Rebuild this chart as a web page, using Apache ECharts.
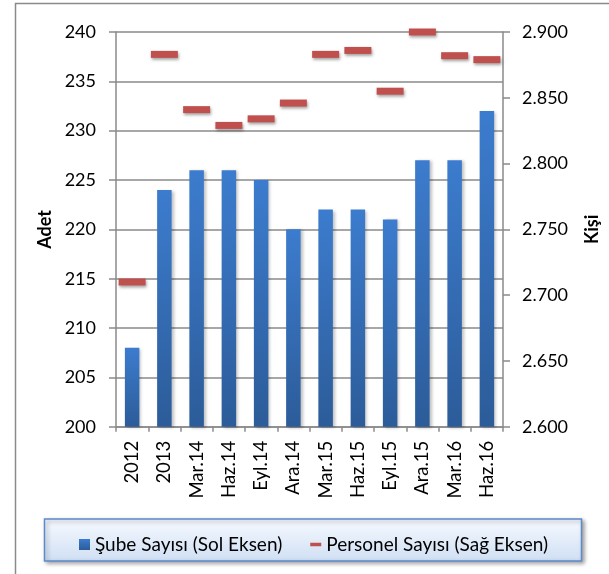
<!DOCTYPE html>
<html>
<head>
<meta charset="utf-8">
<script src="https://cdn.jsdelivr.net/npm/echarts@6/dist/echarts.min.js"></script>
<style>
  html, body { margin: 0; padding: 0; background: #fff; }
  #chart { width: 609px; height: 574px; }
</style>
</head>
<body>
<div id="chart"></div>
<script>
// donemler (x ekseni)
const categories = ['2012', '2013', 'Mar.14', 'Haz.14', 'Eyl.14', 'Ara.14', 'Mar.15', 'Haz.15', 'Eyl.15', 'Ara.15', 'Mar.16', 'Haz.16'];
// sube sayisi - sol eksen
const subeSayisi = [208, 224, 226, 226, 225, 220, 222, 222, 221, 227, 227, 232];
// personel sayisi - sag eksen
const personelSayisi = [2710, 2883, 2841, 2829, 2834, 2846, 2883, 2886, 2855, 2900, 2882, 2879];

const font = 'Lato';
const fs = 18;

const chart = echarts.init(document.getElementById('chart'));

const option = {
  animation: false,
  textStyle: { fontFamily: font },
  grid: { left: 116, right: 99, top: 32, bottom: 147.3 },
  graphic: [
    {
      type: 'rect',
      z: -10,
      shape: { x: 15.5, y: 3.5, width: 700, height: 700 },
      style: { fill: 'none', stroke: '#8a8a8a', lineWidth: 1.5 }
    },
    {
      type: 'rect',
      z: 0,
      shape: { x: 44.5, y: 519, width: 537, height: 42 },
      style: {
        fill: new echarts.graphic.LinearGradient(0, 0, 0, 1, [
          { offset: 0, color: '#f7faff' },
          { offset: 1, color: '#cfdff4' }
        ]),
        stroke: '#5b8bc9',
        lineWidth: 1.5,
        shadowBlur: 4,
        shadowOffsetX: 2,
        shadowOffsetY: 2,
        shadowColor: 'rgba(0,0,0,0.35)'
      }
    }
  ],
  legend: {
    left: 74,
    top: 530,
    z: 10,
    itemWidth: 11,
    itemHeight: 11,
    itemGap: 28,
    textStyle: { fontFamily: font, fontSize: 19, color: '#000' },
    data: [
      { name: 'Şube Sayısı (Sol Eksen)', icon: 'rect' },
      { name: 'Personel Sayısı (Sağ Eksen)', icon: 'path://M0,0L0.01,0L0.01,0.01Z M0,4H13V8H0Z M12.99,11.99L13,11.99L13,12Z' }
    ]
  },
  xAxis: {
    type: 'category',
    data: categories,
    boundaryGap: true,
    axisLine: { lineStyle: { color: '#8a8a8a', width: 1.5 } },
    axisTick: { show: true, length: 5, lineStyle: { color: '#8a8a8a', width: 1.5 } },
    axisLabel: { rotate: 90, margin: 14, fontSize: 18.5, color: '#000', fontFamily: font, interval: 0 }
  },
  yAxis: [
    {
      type: 'value',
      min: 200,
      max: 240,
      interval: 5,
      name: 'Adet',
      nameLocation: 'middle',
      nameRotate: 90,
      nameGap: 62,
      nameTextStyle: { fontFamily: font, fontSize: fs, fontWeight: 'bold', color: '#000' },
      axisLine: { show: true, lineStyle: { color: '#8a8a8a', width: 1.5 } },
      axisTick: { show: true, length: 7, lineStyle: { color: '#8a8a8a', width: 1.5 } },
      axisLabel: { margin: 20, fontSize: fs, color: '#000', fontFamily: font },
      splitLine: { show: true, lineStyle: { color: '#8a8a8a', width: 1.5 } }
    },
    {
      type: 'value',
      min: 2600,
      max: 2900,
      interval: 50,
      position: 'right',
      name: 'Kişi',
      nameLocation: 'middle',
      nameRotate: 90,
      nameGap: 80,
      nameTextStyle: { fontFamily: font, fontSize: fs, fontWeight: 'bold', color: '#000' },
      axisLine: { show: true, lineStyle: { color: '#8a8a8a', width: 1.5 } },
      axisTick: { show: true, length: 7, lineStyle: { color: '#8a8a8a', width: 1.5 } },
      axisLabel: {
        margin: 19,
        fontSize: fs,
        color: '#000',
        fontFamily: font,
        formatter: v => (v / 1000).toFixed(3)
      },
      splitLine: { show: false }
    }
  ],
  series: [
    {
      name: 'Şube Sayısı (Sol Eksen)',
      type: 'bar',
      yAxisIndex: 0,
      barWidth: 14.5,
      data: subeSayisi,
      itemStyle: {
        color: new echarts.graphic.LinearGradient(0, 0, 0, 1, [
          { offset: 0, color: '#3c7cce' },
          { offset: 1, color: '#2c5c99' }
        ]),
        shadowBlur: 3,
        shadowOffsetX: 2,
        shadowOffsetY: 1,
        shadowColor: 'rgba(0,0,0,0.25)'
      }
    },
    {
      name: 'Personel Sayısı (Sağ Eksen)',
      type: 'scatter',
      yAxisIndex: 1,
      symbol: 'rect',
      symbolSize: [27, 7],
      data: personelSayisi,
      z: 5,
      itemStyle: {
        color: '#c0504d',
        opacity: 1,
        shadowBlur: 3,
        shadowOffsetX: 1,
        shadowOffsetY: 2,
        shadowColor: 'rgba(0,0,0,0.35)'
      }
    }
  ]
};

chart.setOption(option);
</script>
</body>
</html>
